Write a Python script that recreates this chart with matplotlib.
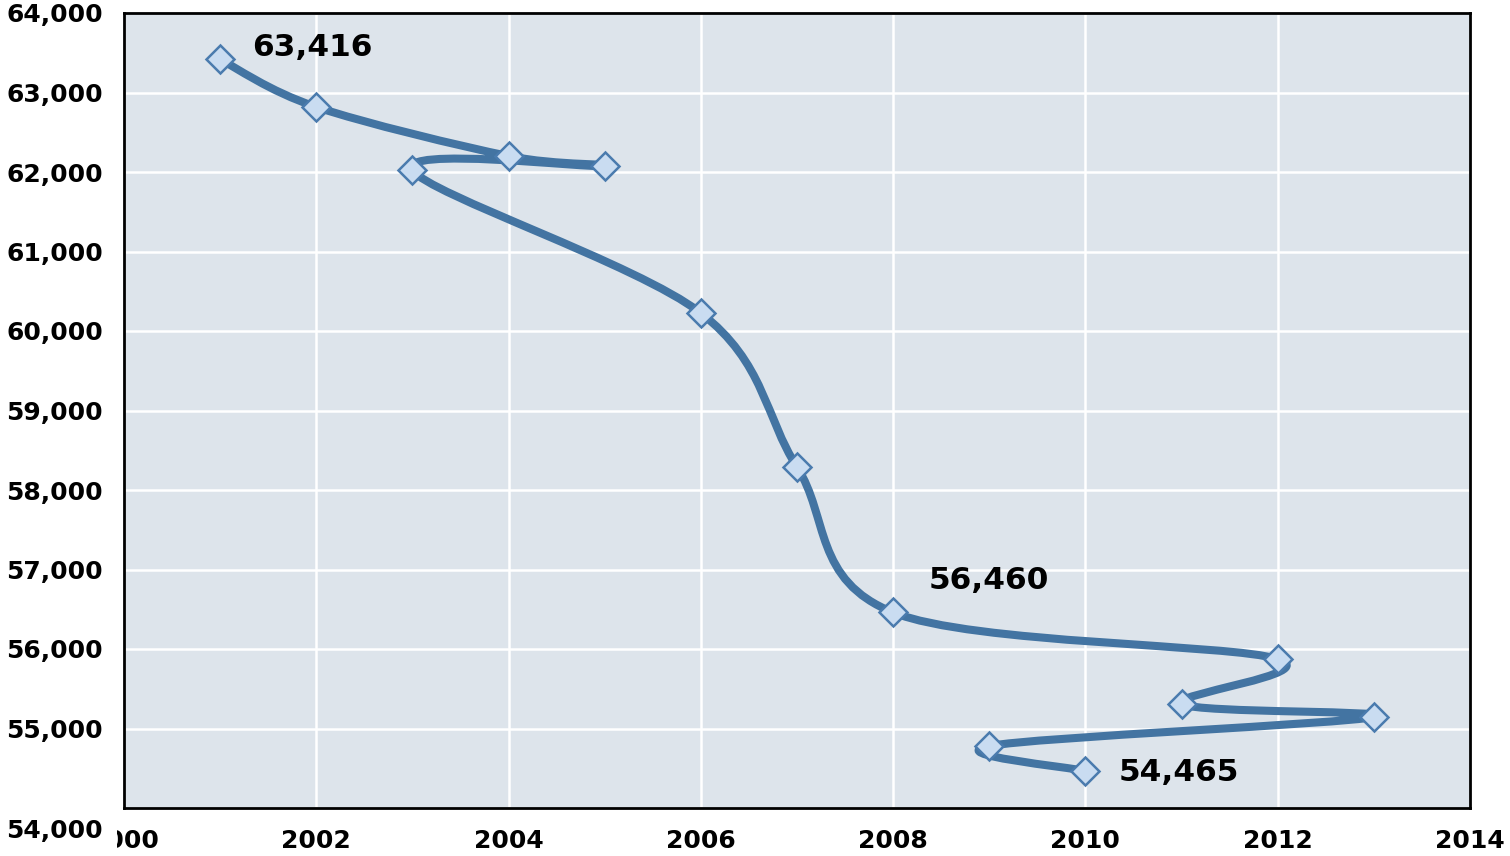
import matplotlib.pyplot as plt
from matplotlib.path import Path
from matplotlib.patches import PathPatch
from matplotlib.transforms import Bbox, TransformedBbox, ScaledTranslation
import numpy as np

# Series, in the order the points are joined
years = [2001, 2002, 2004, 2005, 2003, 2006, 2007, 2008, 2012, 2011, 2013, 2009, 2010]
values = [63416, 62818, 62201, 62075, 62025, 60226, 58289, 56460, 55874, 55308, 55145, 54780, 54465]

# Points that carry a data label
labelled = [2001, 2008, 2010]

y_ticks = [54000, 55000, 56000, 57000, 58000, 59000, 60000, 61000, 62000, 63000, 64000]
x_ticks = [2000, 2002, 2004, 2006, 2008, 2010, 2012, 2014]

line_col = '#4374A2'
face_col = '#C9DCF1'
edge_col = '#4A7BAE'

plt.rcParams['font.family'] = ['DejaVu Sans']
plt.rcParams['font.weight'] = 'bold'

fig = plt.figure(figsize=(15.1, 8.56), dpi=100)
ax = fig.add_axes([124 / 1510, 1 - 808 / 856, (1470 - 124) / 1510, (808 - 13) / 856])
ax.set_facecolor('#DDE4EB')

# smoothed line (Catmull-Rom style Bezier, like Excel's "smoothed line")
pts = np.column_stack([years, values]).astype(float)
n = len(pts)
verts = [pts[0]]
codes = [Path.MOVETO]
for i in range(n - 1):
    p0 = pts[i - 1] if i > 0 else pts[i]
    p1 = pts[i]
    p2 = pts[i + 1]
    p3 = pts[i + 2] if i + 2 < n else pts[i + 1]
    c1 = p1 + (p2 - p0) / 6.0
    c2 = p2 - (p3 - p1) / 6.0
    verts += [c1, c2, p2]
    codes += [Path.CURVE4] * 3
ax.add_patch(PathPatch(Path(verts, codes), facecolor='none', edgecolor=line_col,
                       linewidth=5.8, capstyle='round', joinstyle='round', zorder=3))

ax.plot(years, values, linestyle='none', marker='D', markersize=14,
        markerfacecolor=face_col, markeredgecolor=edge_col, markeredgewidth=1.8, zorder=4)

offsets = {2001: (32, 12), 2008: (35, 32), 2010: (33, -1)}
for yr, val in zip(years, values):
    if yr in labelled:
        dx, dy = offsets[yr]
        ax.annotate(f'{val:,}', (yr, val), xytext=(dx, dy), textcoords='offset pixels',
                    ha='left', va='center', fontsize=22.5, fontweight='bold', color='black', zorder=5)

ax.set_xlim(2000, 2014)
ax.set_ylim(54000, 64000)
ax.set_xticks(x_ticks)
ax.set_yticks(y_ticks)
ax.set_yticklabels([f'{v:,}' for v in y_ticks])
ax.tick_params(length=0, labelsize=18, pad=15)
ax.tick_params(axis='x', pad=15)
ax.grid(True, color='white', linewidth=1.8)
ax.set_axisbelow(True)
for s in ax.spines.values():
    s.set_linewidth(2)
    s.set_color('black')

# bottom y label sits lower, as in the original
bottom_lab = ax.get_yticklabels()[0]
bottom_lab.set_transform(bottom_lab.get_transform() + ScaledTranslation(0, -20 / 100, fig.dpi_scale_trans))

# first x label is partly hidden at the left
first_lab = ax.get_xticklabels()[0]
first_lab.set_clip_on(True)
first_lab.set_clip_box(TransformedBbox(Bbox([[117 / 1510, 0], [1, 1]]), fig.transFigure))

fig.savefig('out.png', dpi=100)
